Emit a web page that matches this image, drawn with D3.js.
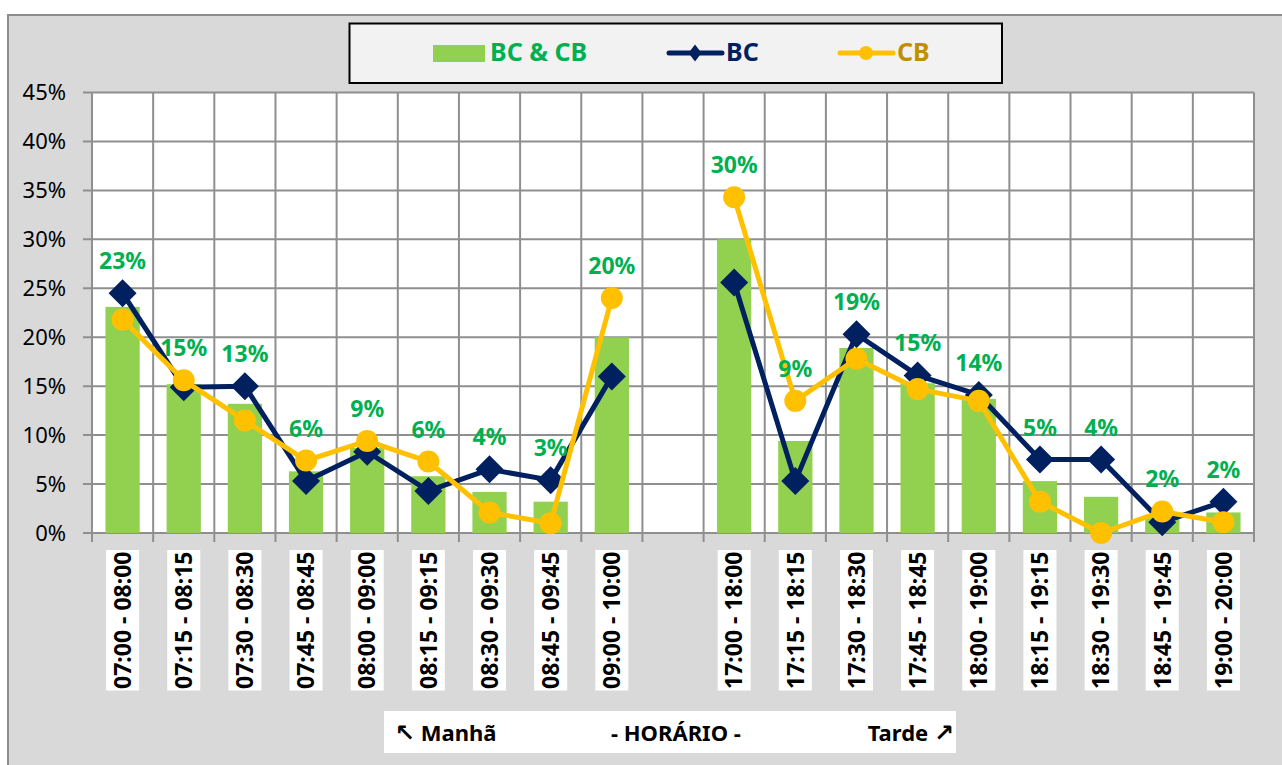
<!DOCTYPE html>
<html>
<head>
<meta charset="utf-8">
<script src="https://cdn.jsdelivr.net/npm/d3@7"></script>
<style>
  html, body { margin: 0; padding: 0; background: #ffffff; }
  svg { display: block; }
</style>
</head>
<body>
<svg id="chart" width="1282" height="765"></svg>
<script>
// periods on the x axis, the empty one is the gap between morning and afternoon
var categories = [
	"07:00 - 08:00", "07:15 - 08:15", "07:30 - 08:30", "07:45 - 08:45",
	"08:00 - 09:00", "08:15 - 09:15", "08:30 - 09:30", "08:45 - 09:45",
	"09:00 - 10:00", "",
	"17:00 - 18:00", "17:15 - 18:15", "17:30 - 18:30", "17:45 - 18:45",
	"18:00 - 19:00", "18:15 - 19:15", "18:30 - 19:30", "18:45 - 19:45",
	"19:00 - 20:00"
];
// values in percent
var bcCb = [23.1, 15.2, 13.2, 6.3, 8.7, 5.8, 4.2, 3.2, 20.0, null,
	30.0, 9.4, 18.9, 15.3, 13.7, 5.3, 3.7, 1.8, 2.1];
var bc = [24.5, 14.9, 15.0, 5.3, 8.3, 4.3, 6.5, 5.4, 16.0, null,
	25.6, 5.3, 20.3, 16.1, 14.1, 7.5, 7.5, 1.1, 3.2];
var cb = [21.8, 15.6, 11.5, 7.4, 9.4, 7.3, 2.1, 1.0, 24.0, null,
	34.3, 13.5, 17.8, 14.7, 13.5, 3.2, 0.0, 2.2, 1.1];
var yTicks = [0, 5, 10, 15, 20, 25, 30, 35, 40, 45];
var legendLabels = ["BC & CB", "BC", "CB"];
var axisLabels = ["\u2196 Manh\u00e3", "- HOR\u00c1RIO -", "Tarde \u2197"];

var cfg = {
	plot: { left: 92, right: 1254, top: 92.5, bottom: 533 },
	font: "'Noto Sans', 'DejaVu Sans', sans-serif",
	green: "#92D050", greenText: "#00B050",
	navy: "#002060", gold: "#FFC000", goldText: "#BF8F00",
	grid: "#8f8f8f"
};

var svg = d3.select("#chart");

// outer chart area
svg.append("rect")
	.attr("x", 8).attr("y", 15)
	.attr("width", 1290).attr("height", 770)
	.attr("fill", "#d9d9d9")
	.attr("stroke", "#8c8c8c")
	.attr("stroke-width", 2);

var x = d3.scaleBand()
	.domain(d3.range(categories.length))
	.range([cfg.plot.left, cfg.plot.right])
	.paddingInner(0).paddingOuter(0);

var y = d3.scaleLinear()
	.domain([0, 45])
	.range([cfg.plot.bottom, cfg.plot.top]);

function cx(i){
	return x(i) + x.bandwidth() / 2;
}

// plot area
svg.append("rect")
	.attr("x", cfg.plot.left).attr("y", cfg.plot.top)
	.attr("width", cfg.plot.right - cfg.plot.left)
	.attr("height", cfg.plot.bottom - cfg.plot.top)
	.attr("fill", "#ffffff");

// horizontal gridlines and y ticks
var gy = svg.append("g").attr("class", "yaxis");
gy.selectAll(".hgrid")
	.data(yTicks)
	.enter()
	.append("line")
		.attr("class", "hgrid")
		.attr("x1", cfg.plot.left - 9)
		.attr("x2", cfg.plot.right)
		.attr("y1", function(d){ return y(d); })
		.attr("y2", function(d){ return y(d); })
		.attr("stroke", cfg.grid)
		.attr("stroke-width", 2);

gy.selectAll(".ytick")
	.data(yTicks)
	.enter()
	.append("text")
		.attr("class", "ytick")
		.attr("x", 66)
		.attr("y", function(d){ return y(d); })
		.attr("dy", "0.36em")
		.attr("text-anchor", "end")
		.attr("font-family", cfg.font)
		.attr("font-size", "22px")
		.attr("fill", "#000000")
		.text(function(d){ return d + "%"; });

// vertical gridlines at every band edge
var edges = d3.range(categories.length + 1);
svg.selectAll(".vgrid")
	.data(edges)
	.enter()
	.append("line")
		.attr("class", "vgrid")
		.attr("x1", function(i){ return i < categories.length ? x(i) : cfg.plot.right; })
		.attr("x2", function(i){ return i < categories.length ? x(i) : cfg.plot.right; })
		.attr("y1", cfg.plot.top)
		.attr("y2", cfg.plot.bottom + 9)
		.attr("stroke", cfg.grid)
		.attr("stroke-width", 2);

var idx = d3.range(categories.length);
var barW = x.bandwidth() * 0.56;

svg.selectAll(".bar")
	.data(idx.filter(function(i){ return bcCb[i] != null; }))
	.enter()
	.append("rect")
		.attr("class", "bar")
		.attr("x", function(i){ return cx(i) - barW / 2; })
		.attr("y", function(i){ return y(bcCb[i]); })
		.attr("width", barW)
		.attr("height", function(i){ return y(0) - y(bcCb[i]); })
		.attr("fill", cfg.green);

function drawSeries(values, color, marker){
	var line = d3.line()
		.defined(function(i){ return values[i] != null; })
		.x(function(i){ return cx(i); })
		.y(function(i){ return y(values[i]); });

	svg.append("path")
		.datum(idx)
		.attr("d", line)
		.attr("fill", "none")
		.attr("stroke", color)
		.attr("stroke-width", 5)
		.attr("stroke-linejoin", "round");

	var pts = svg.selectAll(null)
		.data(idx.filter(function(i){ return values[i] != null; }))
		.enter();

	if (marker == "diamond") {
		pts.append("path")
			.attr("d", "M0,-14L14,0L0,14L-14,0Z")
			.attr("transform", function(i){ return "translate(" + cx(i) + "," + y(values[i]) + ")"; })
			.attr("fill", color);
	} else {
		pts.append("circle")
			.attr("cx", function(i){ return cx(i); })
			.attr("cy", function(i){ return y(values[i]); })
			.attr("r", 11)
			.attr("fill", color);
	}
}

drawSeries(bc, cfg.navy, "diamond");
drawSeries(cb, cfg.gold, "circle");

// data labels of the total, set above the highest mark of the period
svg.selectAll(".barCaption")
	.data(idx.filter(function(i){ return bcCb[i] != null; }))
	.enter()
	.append("text")
		.attr("class", "barCaption")
		.attr("x", function(i){ return cx(i); })
		.attr("y", function(i){
			var top = Math.max(bcCb[i], bc[i], cb[i]);
			return y(top) - 24;
		})
		.attr("text-anchor", "middle")
		.attr("font-family", cfg.font)
		.attr("font-weight", 700)
		.attr("font-size", "23px")
		.attr("fill", cfg.greenText)
		.text(function(i){ return Math.round(bcCb[i]) + "%"; });

// x labels, rotated, on white boxes
var xl = svg.selectAll(".xlabel")
	.data(idx.filter(function(i){ return categories[i] != ""; }))
	.enter()
	.append("g")
		.attr("class", "xlabel");

xl.append("rect")
	.attr("fill", "#ffffff");

xl.append("text")
	.attr("transform", function(i){ return "translate(" + cx(i) + ",551.5) rotate(-90)"; })
	.attr("text-anchor", "end")
	.attr("dy", "0.36em")
	.attr("font-family", cfg.font)
	.attr("font-weight", 700)
	.attr("font-size", "23px")
	.attr("fill", "#000000")
	.text(function(i){ return categories[i]; });

xl.each(function(i){
	var g = d3.select(this);
	var len = g.select("text").node().getComputedTextLength();
	g.select("rect")
		.attr("x", cx(i) - 16.5)
		.attr("y", 550)
		.attr("width", 33)
		.attr("height", len + 3);
});

// legend
var lg = svg.append("g").attr("class", "legend");
lg.append("rect")
	.attr("x", 349.5).attr("y", 23.5)
	.attr("width", 652.5).attr("height", 59.5)
	.attr("fill", "#f2f2f2")
	.attr("stroke", "#000000")
	.attr("stroke-width", 2);

lg.append("rect")
	.attr("x", 433).attr("y", 45)
	.attr("width", 52).attr("height", 17)
	.attr("fill", cfg.green);

lg.append("line")
	.attr("x1", 669).attr("x2", 722).attr("y1", 53).attr("y2", 53)
	.attr("stroke", cfg.navy).attr("stroke-width", 5).attr("stroke-linecap", "round");
lg.append("path")
	.attr("d", "M0,-8.5L6.5,0L0,8.5L-6.5,0Z")
	.attr("transform", "translate(695,53)")
	.attr("fill", cfg.navy);

lg.append("line")
	.attr("x1", 840).attr("x2", 893).attr("y1", 53).attr("y2", 53)
	.attr("stroke", cfg.gold).attr("stroke-width", 5).attr("stroke-linecap", "round");
lg.append("circle")
	.attr("cx", 866).attr("cy", 53).attr("r", 7)
	.attr("fill", cfg.gold);

var legendX = [490, 726, 897];
var legendColors = [cfg.greenText, cfg.navy, cfg.goldText];
lg.selectAll(".legendText")
	.data(legendLabels)
	.enter()
	.append("text")
		.attr("class", "legendText")
		.attr("x", function(d, k){ return legendX[k]; })
		.attr("y", 61)
		.attr("font-family", cfg.font)
		.attr("font-weight", 700)
		.attr("font-size", "25px")
		.attr("fill", function(d, k){ return legendColors[k]; })
		.text(function(d){ return d; });

// axis title box
var at = svg.append("g").attr("class", "axisTitle");
at.append("rect")
	.attr("x", 384).attr("y", 711)
	.attr("width", 572).attr("height", 42)
	.attr("fill", "#ffffff");

var titleX = [395, 611, 954];
var titleAnchor = ["start", "start", "end"];
at.selectAll("text")
	.data(axisLabels)
	.enter()
	.append("text")
		.attr("x", function(d, k){ return titleX[k]; })
		.attr("y", 741)
		.attr("text-anchor", function(d, k){ return titleAnchor[k]; })
		.attr("font-family", cfg.font)
		.attr("font-weight", 700)
		.attr("font-size", "22px")
		.attr("fill", "#000000")
		.each(function(d){
			// arrows drawn with a font that has bigger arrow glyphs
			var t = d3.select(this);
			d.split(/([\u2196\u2197])/).forEach(function(part){
				if (!part) return;
				var span = t.append("tspan").text(part);
				if (/[\u2196\u2197]/.test(part)) {
					span.attr("font-family", "'DejaVu Sans', sans-serif")
						.attr("font-size", "24px");
				}
			});
		});
</script>
</body>
</html>
